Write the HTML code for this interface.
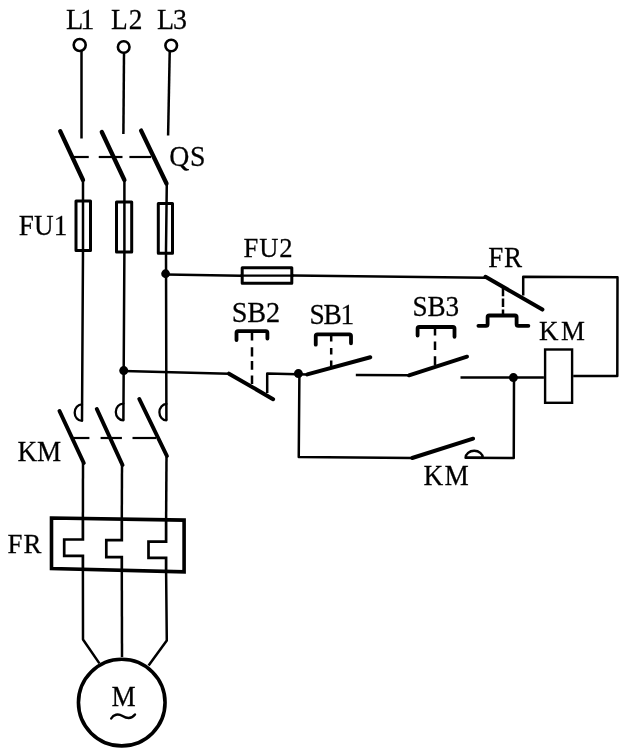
<!DOCTYPE html>
<html><head><meta charset="utf-8">
<style>
html,body{margin:0;padding:0;background:#fff;}
body{width:640px;height:748px;overflow:hidden;}
svg{display:block;will-change:transform;}
text{font-family:"Liberation Serif",serif;font-size:28px;fill:#000;stroke:#000;stroke-width:0.25px;}
</style></head><body>
<svg width="640" height="748" viewBox="0 0 640 748">
<g fill="none" stroke="#000" stroke-linecap="round" stroke-linejoin="round">

<!-- terminals -->
<g stroke-width="2.6">
<circle cx="79.7" cy="45" r="6"/>
<circle cx="123.7" cy="47" r="5.8"/>
<circle cx="171.2" cy="45.5" r="5.8"/>
</g>

<!-- wires (thin) -->
<g stroke-width="2.5" stroke-linecap="butt">
<!-- L1 -->
<polyline points="81.5,51 81.5,138.5"/>
<polyline points="83,179 83,250 82,421"/>
<polyline points="83,463 82.9,520"/>
<polyline points="82.9,569 83,639.5 99.4,663.4"/>
<!-- L2 -->
<polyline points="124,53 123.4,134"/>
<polyline points="124.4,179 124.4,250 123.4,420.3"/>
<polyline points="122,465 121.8,520.5"/>
<polyline points="121.8,570 122,657"/>
<!-- L3 -->
<polyline points="169.7,52 168.1,135.6"/>
<polyline points="166.8,183 166,250 166.4,420.3"/>
<polyline points="166.5,457 166.1,521"/>
<polyline points="166.1,571 166.8,640.5 148.6,665.6"/>

<!-- control: top line -->
<polyline points="166,274.6 241,275.8"/>
<polyline points="293,275.6 485.5,277.7"/>
<polyline points="523.2,295.6 523.2,276.7 617.5,277.2 617.3,376 573.2,376"/>
<!-- mid line -->
<polyline points="123.8,371 229,373.7"/>
<polyline points="267.2,393 267.2,373.6 307.3,374.4"/>
<polyline points="355.8,375 409,375.3"/>
<polyline points="460.5,377.5 543.9,377.6"/>
<!-- KM aux branch -->
<polyline points="299.4,374 298.75,456.9 412.2,458"/>
<polyline points="465.6,457.8 513.75,458 514,377.6"/>
</g>

<!-- junction dots -->
<g fill="#000" stroke="none">
<circle cx="165.6" cy="273.75" r="4.4"/>
<circle cx="123.75" cy="370.6" r="4.5"/>
<circle cx="298.4" cy="373.6" r="4.5"/>
<circle cx="513.4" cy="377.6" r="4.5"/>
</g>

<!-- QS blades -->
<g stroke-width="4.3">
<line x1="60.2" y1="131.2" x2="83" y2="180"/>
<line x1="101.8" y1="132" x2="124.4" y2="180"/>
<line x1="141.1" y1="130.6" x2="166.5" y2="183.5"/>
</g>
<!-- QS dashed -->
<g stroke-width="2.2" stroke-linecap="butt">
<line x1="73.75" y1="157" x2="88.75" y2="157"/>
<line x1="98.75" y1="157" x2="122.5" y2="157"/>
<line x1="129.4" y1="157" x2="151" y2="157"/>
</g>

<!-- FU1 fuses -->
<g stroke-width="3" stroke-linecap="butt">
<rect x="76" y="201" width="14.5" height="49.5"/>
<rect x="116.5" y="202" width="15.2" height="50"/>
<rect x="158.3" y="203.5" width="14.2" height="49.7"/>
<!-- FU2 -->
<rect x="242.2" y="267.7" width="49.6" height="15.5"/>
</g>
<line x1="241" y1="275.6" x2="293" y2="275.6" stroke-width="2.3"/>

<!-- KM main contacts -->
<g stroke-width="2.3">
<path d="M82,404.4 A7.3,8.25 0 0 0 82,420.9"/>
<path d="M123.4,403.6 A7.6,8.35 0 0 0 123.4,420.3"/>
<path d="M166.4,404 A7,8.15 0 0 0 166.4,420.3"/>
</g>
<g stroke-width="4">
<line x1="59.5" y1="411" x2="83.75" y2="463"/>
<line x1="96.8" y1="409" x2="122.5" y2="465"/>
<line x1="139.3" y1="399" x2="166.9" y2="456"/>
</g>
<g stroke-width="2.2" stroke-linecap="butt">
<line x1="72.5" y1="438" x2="89.4" y2="438"/>
<line x1="100.6" y1="438" x2="121.9" y2="438"/>
<line x1="132.5" y1="438" x2="156" y2="438"/>
</g>

<!-- FR thermal box -->
<g stroke-width="3.6" stroke-linejoin="miter" stroke-linecap="butt">
<polygon points="51.5,518 184.1,520.1 184.1,571.9 51.5,568.6"/>
</g>
<g stroke-width="2.7" stroke-linejoin="miter" stroke-linecap="butt">
<polyline points="82.9,520 82.9,539.5 64.2,539.5 64.2,555.9 82.9,555.9 82.9,569"/>
<polyline points="121.8,520.5 121.8,540.2 106.3,540.2 106.3,557.1 121.8,557.1 121.8,570"/>
<polyline points="166.1,521 166.1,541.6 148.5,541.6 148.5,557.8 166.1,557.8 166.1,571"/>
</g>

<!-- motor -->
<circle cx="121.75" cy="702.6" r="43.3" stroke-width="3.6"/>
<path d="M111.2,718.5 C113.5,714.5 118,713.3 122.5,716 C127,718.8 131.5,719 135,714.5" stroke-width="2.4"/>

<!-- push buttons -->
<g stroke-width="3.8">
<path d="M236.5,340 V332.7 Q236.5,331.1 238.1,331.1 H265.8 Q267.4,331.1 267.4,332.7 V338.6"/>
<path d="M315.75,344.7 V335.9 Q315.75,334.3 317.4,334.3 H349.4 Q351,334.3 351,335.9 V343.3"/>
<path d="M417.6,335.6 V328.6 Q417.6,327 419.2,327 H452.9 Q454.5,327 454.5,328.6 V336.75"/>
<!-- FR NC symbol -->
<path d="M478.4,325.8 H486.0 Q487.6,325.8 487.6,324.2 V317.1 Q487.6,315.5 489.2,315.5 H515.0 Q516.6,315.5 516.6,317.1 V324.2 Q516.6,325.8 518.2,325.8 H528.4"/>
</g>
<g stroke-width="2.5" stroke-linecap="butt">
<path d="M252,333 V340.5 M252,347.2 V356.4 M252,361.1 V369.8 M252,375.6 V384"/>
<path d="M331.2,335 V341.5 M331.2,348 V354.4 M331.2,360.5 V366.5"/>
<path d="M435,328 V335.6 M435,341.4 V350 M435,356.3 V365"/>
<path d="M503,288 V296.2 M503,298.6 V307 M503,309.4 V315"/>
</g>

<!-- control blades -->
<g stroke-width="4">
<line x1="229" y1="373.7" x2="273.1" y2="399.2"/>
<line x1="307.3" y1="374.4" x2="370.3" y2="357.2"/>
<line x1="409" y1="375.3" x2="467" y2="356.7"/>
<line x1="485.5" y1="276.8" x2="542.4" y2="309.6"/>
<line x1="412.2" y1="458" x2="473.1" y2="438.7"/>
</g>
<!-- KM aux semicircle -->
<path d="M465.6,457.8 A8.6,7 0 0 1 482.8,457.8 Z" stroke-width="2.5"/>

<!-- coil -->
<rect x="545.1" y="349.5" width="27" height="53.3" stroke-width="2.4" stroke-linejoin="miter"/>
</g>

<g>
<text transform="translate(66.0,28.8) scale(0.95,1)" style="font-size:29.76px" textLength="29.9" lengthAdjust="spacing">L1</text>
<text transform="translate(111.0,29.0) scale(0.95,1)" style="font-size:28.86px" textLength="33.2" lengthAdjust="spacing">L2</text>
<text transform="translate(157.0,28.6) scale(0.95,1)" style="font-size:29.40px" textLength="31.5" lengthAdjust="spacing">L3</text>
<text transform="translate(169.2,165.6) scale(0.95,1)" style="font-size:29.3px" textLength="38.3" lengthAdjust="spacing">QS</text>
<text transform="translate(18.8,234.8) scale(0.95,1)" style="font-size:28.60px" textLength="51.1" lengthAdjust="spacing">FU1</text>
<text transform="translate(243.6,257.3) scale(0.95,1)" style="font-size:28.0px" textLength="51.5" lengthAdjust="spacing">FU2</text>
<text transform="translate(488.2,267.1) scale(0.95,1)" style="font-size:28.51px" textLength="35.6" lengthAdjust="spacing">FR</text>
<text transform="translate(231.8,321.8) scale(0.95,1)" style="font-size:29.76px" textLength="50.8" lengthAdjust="spacing">SB2</text>
<text transform="translate(309.4,324.2) scale(0.95,1)" style="font-size:28.86px" textLength="47.1" lengthAdjust="spacing">SB1</text>
<text transform="translate(412.6,316.0) scale(0.95,1)" style="font-size:28.60px" textLength="49.0" lengthAdjust="spacing">SB3</text>
<text transform="translate(539.0,340.0) scale(0.95,1)" style="font-size:28.33px" textLength="48.3" lengthAdjust="spacing">KM</text>
<text transform="translate(17.4,461.4) scale(0.95,1)" style="font-size:28.60px" textLength="46.2" lengthAdjust="spacing">KM</text>
<text transform="translate(423.6,484.6) scale(0.95,1)" style="font-size:28.78px" textLength="47.5" lengthAdjust="spacing">KM</text>
<text transform="translate(7.6,553.1) scale(0.95,1)" style="font-size:28.24px" textLength="35.7" lengthAdjust="spacing">FR</text>
<text transform="translate(111.4,705.8) scale(0.95,1)" style="font-size:28.68px" textLength="30.3" lengthAdjust="spacing">M</text>
</g>
</svg>
</body></html>
